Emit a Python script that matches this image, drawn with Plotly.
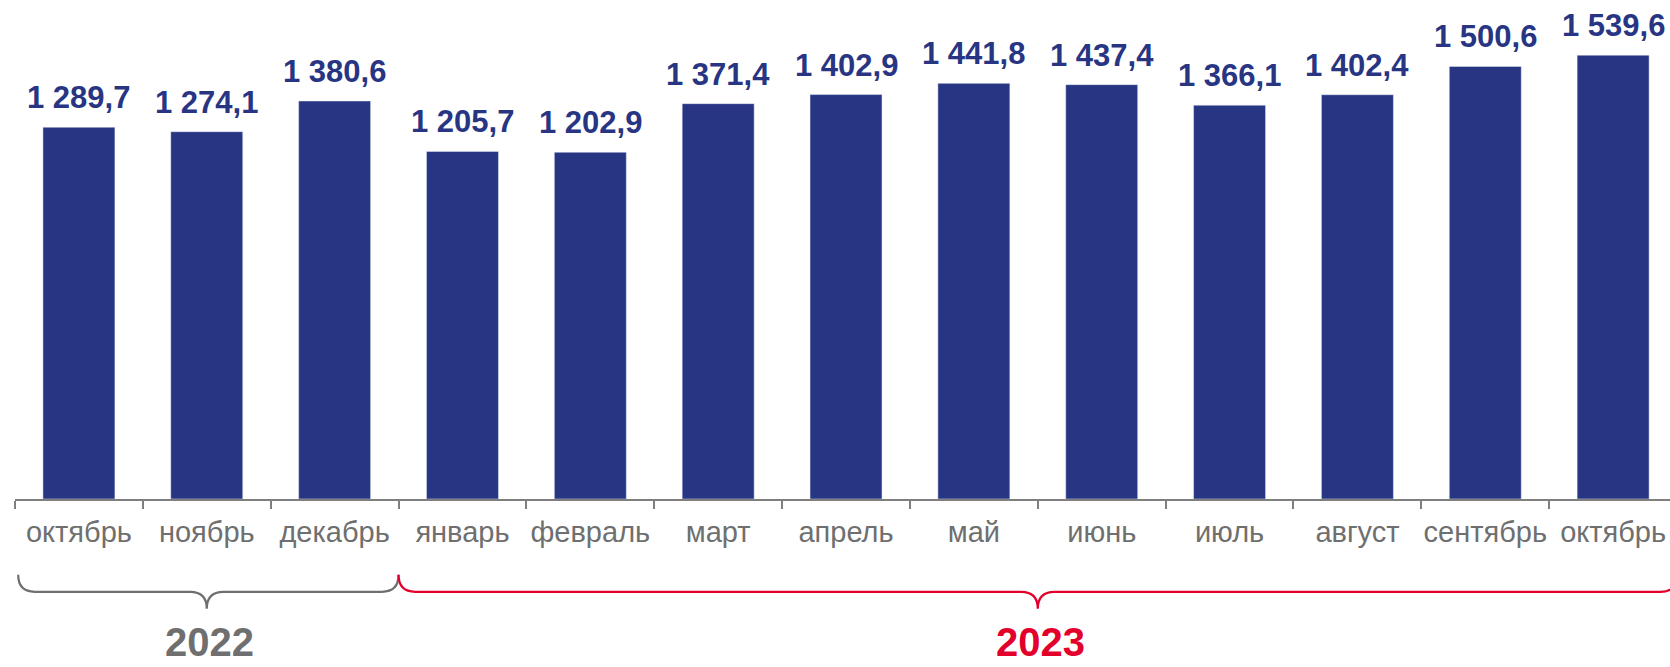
import plotly.graph_objects as go

months = ["октябрь", "ноябрь", "декабрь", "январь", "февраль", "март", "апрель",
          "май", "июнь", "июль", "август", "сентябрь", "октябрь"]
values = [1289.7, 1274.1, 1380.6, 1205.7, 1202.9, 1371.4, 1402.9,
          1441.8, 1437.4, 1366.1, 1402.4, 1500.6, 1539.6]
years = ["2022", "2023"]
year_counts = [3, 10]
year_colors = ["#6F6F6F", "#E3002B"]

BAR = "#283583"
GRAY = "#6F6F6F"
FONT = "Liberation Sans"


def fmt(v):
    return f"{v:,.1f}".replace(",", " ").replace(".", ",")


x = list(range(len(months)))

fig = go.Figure()
fig.add_trace(go.Bar(x=x, y=values, marker_color=BAR, width=0.563, hoverinfo="skip"))

annotations = []
for xi, v in zip(x, values):
    annotations.append(dict(x=xi, y=v, xref="x", yref="y", text=fmt(v), showarrow=False,
                            yanchor="bottom", yshift=10,
                            font=dict(family=FONT, size=31, color=BAR, weight="bold")))

shapes = []
y_top, y_mid, y_pt = -0.152, -0.186, -0.220
r = 0.13
start = -0.5
for i, (yr, cnt, col) in enumerate(zip(years, year_counts, year_colors)):
    x0 = start + (0.025 if i == 0 else 0.0)
    x1 = start + cnt
    xc = start + cnt / 2
    path = (f"M {x0},{y_top} Q {x0},{y_mid} {x0 + r},{y_mid} "
            f"L {xc - r},{y_mid} Q {xc},{y_mid} {xc},{y_pt} "
            f"Q {xc},{y_mid} {xc + r},{y_mid} "
            f"L {x1 - r},{y_mid} Q {x1},{y_mid} {x1},{y_top}")
    shapes.append(dict(type="path", path=path, xref="x", yref="paper",
                       line=dict(color=col, width=2.2)))
    annotations.append(dict(x=xc + 0.02, y=-0.238, xref="x", yref="paper", text=yr,
                            showarrow=False, yanchor="top",
                            font=dict(family=FONT, size=40, color=col, weight="bold")))
    start += cnt

fig.update_layout(
    width=1670, height=667,
    margin=dict(l=15, r=0, t=0, b=168),
    plot_bgcolor="white", paper_bgcolor="white",
    showlegend=False,
    annotations=annotations,
    shapes=shapes,
    xaxis=dict(range=[-0.5, 12.445], tickmode="array", tickvals=x, ticktext=months,
               ticks="", showline=True, linecolor="#7F7F7F", linewidth=2,
               showgrid=False, zeroline=False, ticklabelstandoff=6,
               tickfont=dict(family=FONT, size=29, color=GRAY),
               minor=dict(tickmode="array", tickvals=[i - 0.5 for i in range(len(months) + 1)],
                          ticks="outside", ticklen=8, tickwidth=2, tickcolor="#7F7F7F",
                          showgrid=False)),
    yaxis=dict(range=[0, 1731], visible=False, showgrid=False, zeroline=False),
)

fig.write_html("out.html", config={"displayModeBar": False},
               post_script="document.body.style.margin='0px';document.body.style.overflow='hidden';")
